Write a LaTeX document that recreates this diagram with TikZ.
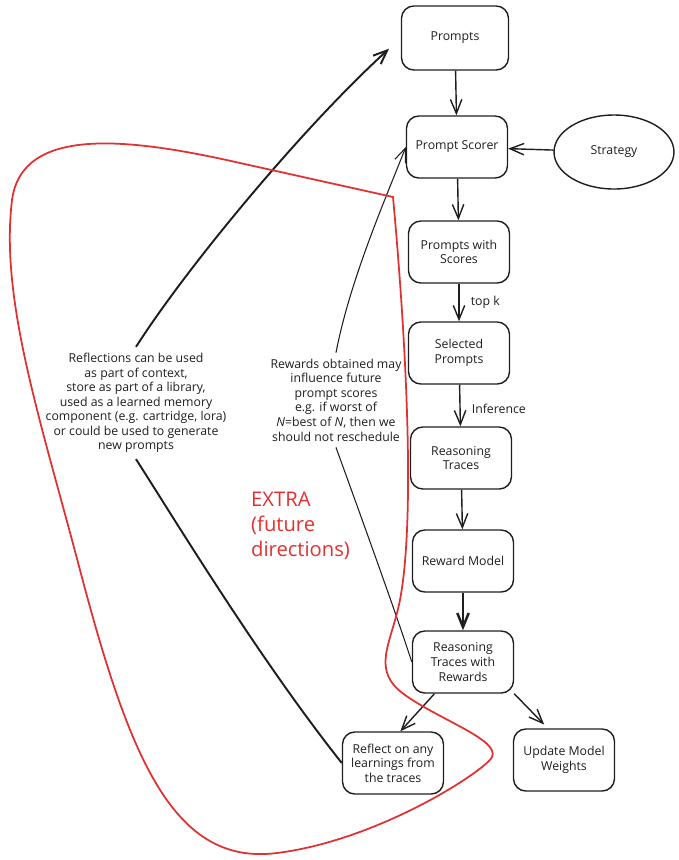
\documentclass[tikz,border=0pt]{standalone}
\usepackage{fontspec}
\setmainfont{Open Sans}
\usetikzlibrary{arrows.meta,shapes.geometric}
\definecolor{exred}{HTML}{E03131}
\definecolor{ink}{HTML}{1E1E1E}

\begin{document}
\begin{tikzpicture}[x=0.02cm,y=-0.02cm,ink,
  font=\fontsize{7}{8.3}\selectfont,
  box/.style={draw,line width=0.8pt,rounded corners=7pt,minimum width=2.02cm,minimum height=1.24cm,align=center,inner sep=2pt},
  >={Straight Barb[length=8pt,width=6.5pt]}]
\useasboundingbox (0,0) rectangle (679,860);
\node[box,minimum width=2.14cm,minimum height=1.28cm] (A) at (455,38) {Prompts};
\node[box] (B) at (457,147) {Prompt Scorer};
\node[draw,ellipse,line width=0.8pt,minimum width=2.4cm,minimum height=1.48cm] (C) at (614,152) {Strategy};
\node[box] (D) at (459,252) {Prompts with\\Scores};
\node[box] (E) at (459,353) {Selected\\Prompts};
\node[box] (F) at (461,458) {Reasoning\\Traces};
\node[box] (G) at (463,561) {Reward Model};
\node[box] (H) at (463,662) {Reasoning\\Traces with\\Rewards};
\node[box] (I) at (393,763) {Reflect on any\\learnings from\\the traces};
\node[box] (J) at (564,760) {Update Model\\Weights};
\node[align=center] (K) at (136,403) {Reflections can be used\\as part of context,\\store as part of a library,\\used as a learned memory\\component (e.g. cartridge, lora)\\or could be used to generate\\new prompts};
\node[align=center] (L) at (336,400) {Rewards obtained may\\influence future\\prompt scores\\e.g. if worst of\\\textit{N}=best of \textit{N}, then we\\should not reschedule};
\node[exred,align=left,anchor=west,font=\fontsize{11.5}{14.2}\selectfont] (M) at (245,526) {EXTRA\\(future\\directions)};
\path[->,line width=0.8pt]
(A) edge (B)
(C) edge (B)
(B) edge (D)
(D) edge node[right,xshift=3pt] {top k} (E)
(E) edge node[right,xshift=3pt,yshift=-2pt] {Inference} (F)
(F) edge (G)
(G) edge[line width=1.4pt] (H)
(H.228) edge (I.77)
(H.south east) edge[shorten >=3pt] (J.117);
% the two feedback notes
\draw[line width=1.1pt] (I.west) .. controls (260,660) and (175,520) .. (K.south);
\draw[->,line width=1.1pt,shorten >=9pt] (K.north) .. controls (185,270) and (300,130) .. (A.west);
\draw[line width=0.6pt] (H.west) .. controls (395,610) and (355,500) .. (L.south);
\draw[->,line width=0.6pt] (L.north) .. controls (350,280) and (385,200) .. (B.west);
% red outline
\draw[exred,line width=1pt] (393,197) .. controls (407,350) and (415,520) .. (400,600)
 .. controls (391,645) and (370,670) .. (405,695)
 .. controls (440,720) and (500,740) .. (492,757)
 .. controls (486,770) and (380,840) .. (277,853)
 .. controls (174,866) and (130,760) .. (80,570)
 .. controls (40,418) and (0,300) .. (12,200)
 .. controls (22,125) and (130,138) .. (240,163) -- cycle;
\end{tikzpicture}
\end{document}
